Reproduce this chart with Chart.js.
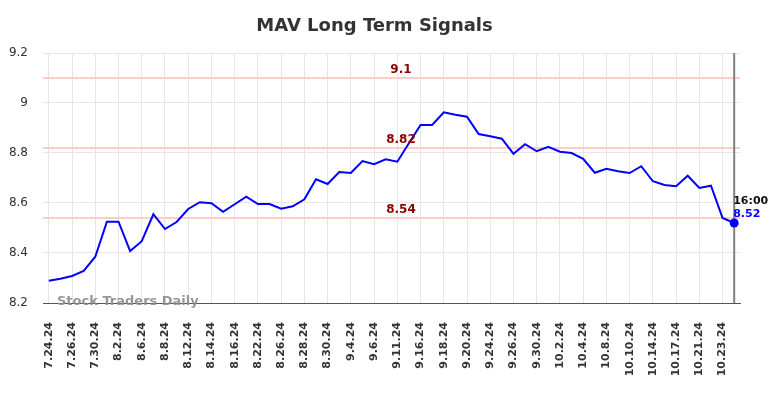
<!DOCTYPE html>
<html>
<head>
<meta charset="utf-8">
<title>MAV Long Term Signals</title>
<script src="https://cdn.jsdelivr.net/npm/chart.js@4.4.1/dist/chart.umd.min.js"></script>
<style>
  html, body { margin: 0; padding: 0; background: #fff; }
  #chart { display: block; }
</style>
</head>
<body>
<canvas id="chart" width="784" height="398"></canvas>
<script>
/* ================= DATA ================= */
const dates = [
  '7.24.24', '7.25.24', '7.26.24', '7.29.24', '7.30.24', '7.31.24', '8.2.24', '8.5.24',
  '8.6.24', '8.7.24', '8.8.24', '8.9.24', '8.12.24', '8.13.24', '8.14.24', '8.15.24',
  '8.16.24', '8.19.24', '8.22.24', '8.23.24', '8.26.24', '8.27.24', '8.28.24', '8.29.24',
  '8.30.24', '9.3.24', '9.4.24', '9.5.24', '9.6.24', '9.9.24', '9.11.24', '9.12.24',
  '9.16.24', '9.17.24', '9.18.24', '9.19.24', '9.20.24', '9.23.24', '9.24.24', '9.25.24',
  '9.26.24', '9.27.24', '9.30.24', '10.1.24', '10.2.24', '10.3.24', '10.4.24', '10.7.24',
  '10.8.24', '10.9.24', '10.10.24', '10.11.24', '10.14.24', '10.15.24', '10.17.24', '10.18.24',
  '10.21.24', '10.22.24', '10.23.24', '10.24.24'
];

const prices = [
  8.289, 8.297, 8.308, 8.328, 8.385, 8.525, 8.525, 8.408,
  8.447, 8.555, 8.496, 8.524, 8.576, 8.603, 8.599, 8.565,
  8.595, 8.625, 8.596, 8.596, 8.577, 8.587, 8.615, 8.695,
  8.676, 8.724, 8.720, 8.768, 8.755, 8.775, 8.765, 8.839,
  8.912, 8.912, 8.963, 8.953, 8.945, 8.876, 8.867, 8.857,
  8.797, 8.835, 8.807, 8.825, 8.805, 8.800, 8.777, 8.721,
  8.737, 8.727, 8.720, 8.747, 8.687, 8.672, 8.667, 8.709,
  8.660, 8.669, 8.540, 8.520
];

const signalLevels = [9.1, 8.82, 8.54];
const lastTime = '16:00';

const Y_MIN = 8.2;
const Y_MAX = 9.2;
const Y_STEP = 0.2;

/* ================= STYLE ================= */
const FONT = '"DejaVu Sans", sans-serif';
const LINE_BLUE = '#0000ff';
const LEVEL_PINK = '#ffcccc';
const LEVEL_TEXT = '#8b0000';
const GRID = '#e6e6e6';

Chart.defaults.font.family = FONT;

/* ================= PLUGIN ================= */
const signalsPlugin = {
  id: 'signals',
  beforeDatasetsDraw(chart) {
    const { ctx, chartArea: a, scales: { x, y } } = chart;
    ctx.save();

    ctx.strokeStyle = LEVEL_PINK;
    ctx.lineWidth = 2;
    signalLevels.forEach(level => {
      const py = y.getPixelForValue(level);
      ctx.beginPath();
      ctx.moveTo(a.left, py);
      ctx.lineTo(a.right, py);
      ctx.stroke();
    });

    const lx = x.getPixelForValue(prices.length - 1);
    ctx.strokeStyle = '#808080';
    ctx.lineWidth = 2;
    ctx.beginPath();
    ctx.moveTo(lx, a.top);
    ctx.lineTo(lx, a.bottom);
    ctx.stroke();

    ctx.font = 'bold 13px ' + FONT;
    ctx.fillStyle = 'rgba(140,140,140,0.9)';
    ctx.textAlign = 'left';
    ctx.textBaseline = 'middle';
    ctx.fillText('Stock Traders Daily', a.left + 14, a.bottom - 1);

    ctx.restore();
  },
  afterDatasetsDraw(chart) {
    const { ctx, chartArea: a, scales: { x, y } } = chart;
    ctx.save();

    ctx.font = 'bold 18px ' + FONT;
    ctx.fillStyle = '#333';
    ctx.textAlign = 'center';
    ctx.textBaseline = 'middle';
    ctx.fillText('MAV Long Term Signals', chart.width / 2 - 17.5, 26);

    ctx.font = 'bold 12px ' + FONT;
    ctx.fillStyle = LEVEL_TEXT;
    const mid = (a.left + a.right) / 2 + 9.5;
    signalLevels.forEach(level => {
      ctx.fillText(String(level), mid, y.getPixelForValue(level) - 8);
    });

    const last = prices.length - 1;
    const lx = x.getPixelForValue(last);
    const ly = y.getPixelForValue(prices[last]);
    ctx.font = 'bold 11px ' + FONT;
    ctx.textAlign = 'left';
    ctx.fillStyle = '#111';
    ctx.fillText(lastTime, lx - 1, ly - 22);
    ctx.fillStyle = LINE_BLUE;
    ctx.fillText(prices[last].toFixed(2), lx - 1, ly - 9);

    ctx.restore();
  }
};

/* ================= CHART ================= */
new Chart(document.getElementById('chart'), {
  type: 'line',
  data: {
    labels: dates,
    datasets: [{
      data: prices,
      borderColor: LINE_BLUE,
      backgroundColor: LINE_BLUE,
      borderWidth: 2,
      tension: 0,
      pointRadius: ctx => ctx.dataIndex === prices.length - 1 ? 4.5 : 0,
      pointBorderWidth: 0
    }]
  },
  options: {
    responsive: false,
    animation: false,
    layout: { padding: { top: 53, right: 44, left: 0, bottom: 0 } },
    plugins: {
      legend: { display: false },
      title: { display: false },
      tooltip: { enabled: false }
    },
    scales: {
      x: {
        type: 'category',
        offset: true,
        grid: { color: GRID, drawTicks: false },
        border: { display: true, color: '#555', width: 1 },
        ticks: {
          autoSkip: false,
          minRotation: 90,
          maxRotation: 90,
          padding: 19,
          color: '#333',
          font: { size: 11, weight: 'bold' },
          callback(value, index) {
            return index % 2 === 0 ? this.getLabelForValue(value) : null;
          }
        },
        afterFit(scale) { scale.height = 95; }
      },
      y: {
        min: Y_MIN,
        max: Y_MAX,
        grid: { color: GRID, drawTicks: false },
        border: { display: false },
        ticks: {
          stepSize: Y_STEP,
          padding: 15,
          color: '#333',
          font: { size: 12 },
          callback: v => String(+v.toFixed(2))
        },
        afterFit(scale) { scale.width = 43; }
      }
    }
  },
  plugins: [signalsPlugin]
});
</script>
</body>
</html>
